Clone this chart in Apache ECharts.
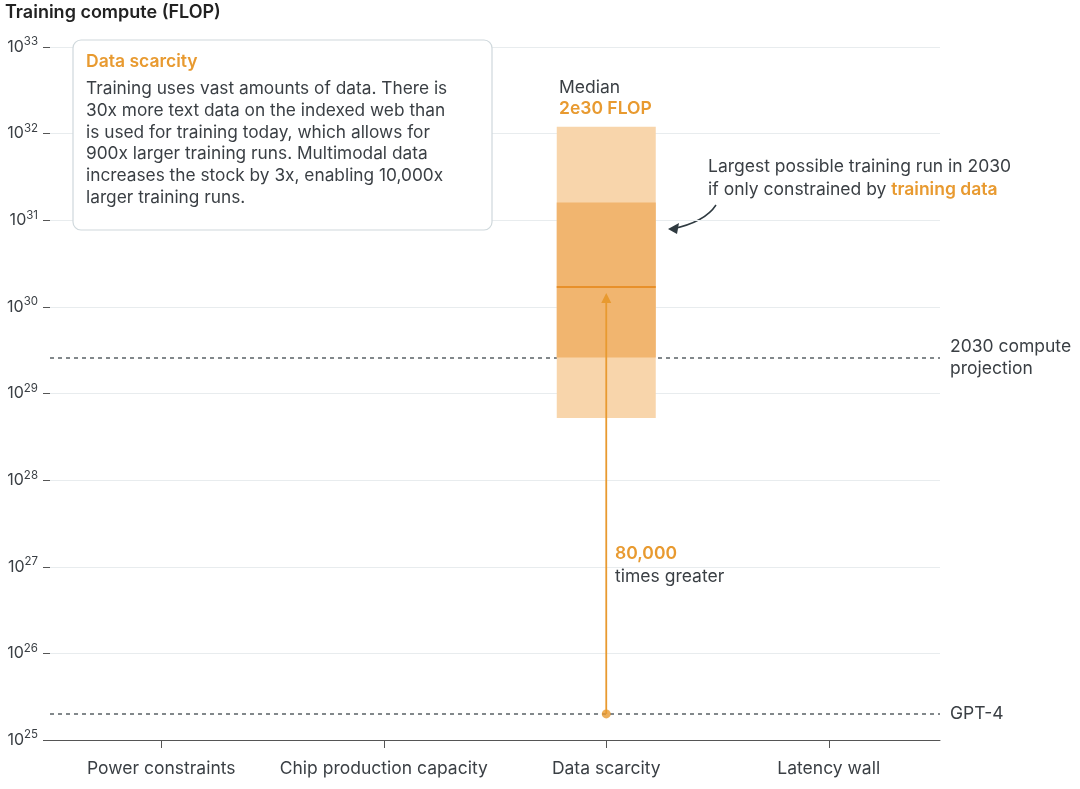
<!DOCTYPE html>
<html><head><meta charset="utf-8">
<script src="https://cdn.jsdelivr.net/npm/echarts@6/dist/echarts.min.js"></script>
<style>html,body{margin:0;padding:0;background:#fff}#c{width:1080px;height:789px}</style>
</head><body><div id="c"></div>
<script>
const categories = ['Power constraints','Chip production capacity','Data scarcity','Latency wall'];
const outerBand = [2, 5.2e28, 1.2e32];   // [category index, low, high]
const innerBand = [2, 2.6e29, 1.6e31];
const medianValue = 1.7e30;
const gpt4Value = 2e25;
const projection2030 = 2.6e29;

const chart = echarts.init(document.getElementById('c'));
const FONT = 'Inter';
const ORANGE = '#e89a30';
const TXT = '#3a3f44';

function bandItem(color) {
  return function(params, api) {
    const x = api.value(0);
    const p1 = api.coord([x, api.value(2)]);
    const p2 = api.coord([x, api.value(1)]);
    const w = 99;
    return {type:'rect', shape:{x:p1[0]-w/2, y:p1[1], width:w, height:p2[1]-p1[1]}, style:{fill:color}};
  };
}

chart.setOption({
  animation:false,
  textStyle:{fontFamily:FONT},
  grid:{left:50, right:140, top:47, bottom:49},
  xAxis:{type:'category', data:categories,
    axisLine:{show:true, lineStyle:{color:'#555', width:1}},
    axisTick:{show:true, alignWithLabel:true, interval:0, length:8, lineStyle:{color:'#555', width:1}},
    axisLabel:{interval:0, color:TXT, fontSize:17.5, margin:20, fontFamily:FONT},
    splitLine:{show:false}},
  yAxis:{type:'log', logBase:10, min:1e25, max:1e33,
    axisLine:{show:false},
    axisTick:{show:true, length:7, lineStyle:{color:'#555'}},
    splitLine:{lineStyle:{color:'#e8ecee'}},
    axisLabel:{margin:12, fontFamily:FONT,
      formatter:v=>'10{s|'+Math.round(Math.log10(v))+'}',
      color:TXT, fontSize:16,
      rich:{s:{fontSize:11.5, verticalAlign:'top', padding:[0,0,10,0], color:TXT, fontFamily:FONT}}}},
  graphic:[
    {type:'text', left:5, top:4, style:{text:'Training compute (FLOP)', font:'600 18px '+FONT, fill:'#222'}},
    {type:'rect', shape:{x:73, y:40, width:419, height:190, r:8}, style:{fill:'#fff', stroke:'#cfd8dc', lineWidth:1.2}, z:10},
    {type:'text', x:86, y:53, z:11, style:{text:'Data scarcity', font:'600 17.5px '+FONT, fill:ORANGE}},
    {type:'text', x:86, y:78, z:11, style:{text:'Training uses vast amounts of data. There is\n30x more text data on the indexed web than\nis used for training today, which allows for\n900x larger training runs. Multimodal data\nincreases the stock by 3x, enabling 10,000x\nlarger training runs.', font:'17.3px '+FONT, fill:TXT, lineHeight:21.8}},
    {type:'text', x:559, y:79, style:{text:'Median', font:'17.5px '+FONT, fill:TXT}},
    {type:'text', x:559, y:100, style:{text:'2e30 FLOP', font:'600 17.5px '+FONT, fill:ORANGE}},
    {type:'text', x:708, y:155, style:{rich:{a:{font:'17.5px '+FONT, fill:TXT, lineHeight:23},b:{font:'600 17.5px '+FONT, fill:ORANGE, lineHeight:23}}, text:'{a|Largest possible training run in 2030}\n{a|if only constrained by }{b|training data}'}},
    {type:'bezierCurve', shape:{x1:716, y1:205, x2:672, y2:229, cpx1:705, cpy1:222}, style:{stroke:'#2f3a40', lineWidth:1.5, fill:null}},
    {type:'polygon', shape:{points:[[668,229],[679,223],[677,234]]}, style:{fill:'#2f3a40'}},
    {type:'text', x:615, y:545, style:{text:'80,000', font:'600 17.5px '+FONT, fill:ORANGE}},
    {type:'text', x:615, y:568, style:{text:'times greater', font:'17.5px '+FONT, fill:TXT}}
  ],
  series:[
    {type:'custom', renderItem:bandItem('#f8d5ab'), data:[outerBand], z:2},
    {type:'custom', renderItem:bandItem('#f1b56f'), data:[innerBand], z:3},
    {type:'custom', z:4, data:[[2, medianValue]], renderItem:(p,api)=>{
      const c = api.coord([api.value(0), api.value(1)]);
      return {type:'line', shape:{x1:c[0]-49.5, y1:c[1], x2:c[0]+49.5, y2:c[1]}, style:{stroke:'#e8902a', lineWidth:2}};
    }},
    {type:'custom', z:5, data:[[2, gpt4Value, medianValue]], renderItem:(p,api)=>{
      const a = api.coord([api.value(0), api.value(1)]);
      const b = api.coord([api.value(0), api.value(2)]);
      return {type:'group', children:[
        {type:'line', shape:{x1:a[0], y1:a[1], x2:b[0], y2:b[1]+12}, style:{stroke:ORANGE, lineWidth:1.8}},
        {type:'polygon', shape:{points:[[b[0],b[1]+6],[b[0]-5,b[1]+16],[b[0]+5,b[1]+16]]}, style:{fill:ORANGE}}
      ]};
    }},
    {type:'scatter', z:6, data:[[2, gpt4Value]], symbolSize:9, itemStyle:{color:ORANGE},
      markLine:{symbol:'none', silent:true, z:1,
        lineStyle:{type:[4,4], color:'#5a6166', width:1.5},
        label:{position:'end', distance:10, color:TXT, fontSize:17.5, fontFamily:FONT, lineHeight:22, formatter:p=>p.name},
        data:[{yAxis:projection2030, name:'2030 compute\nprojection'},{yAxis:gpt4Value, name:'GPT-4'}]}}
  ]
});
</script></body></html>
